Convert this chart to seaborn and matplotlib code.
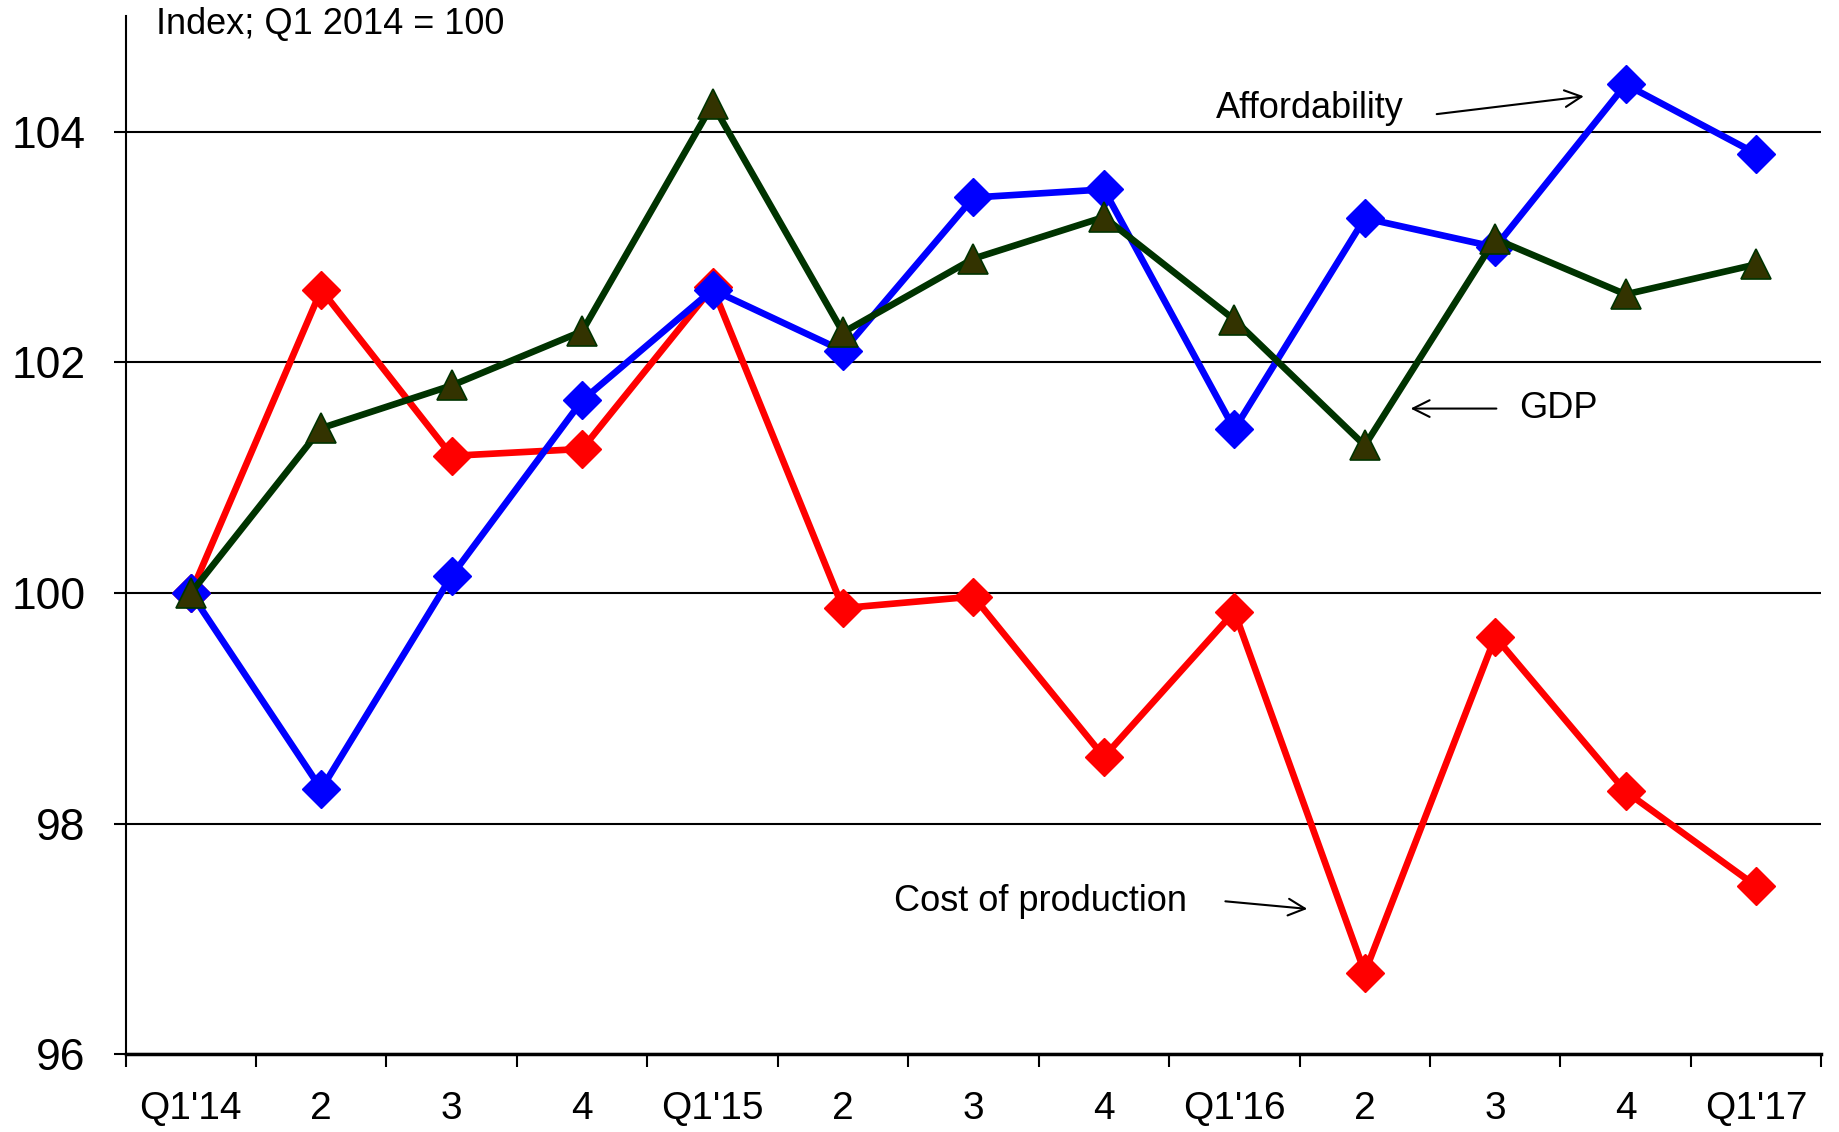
import pandas as pd
import seaborn as sns
import matplotlib.pyplot as plt
from matplotlib.ticker import FixedLocator

# Quarterly index values, Q1 2014 = 100
quarters = ["Q1'14", "2", "3", "4", "Q1'15", "2", "3", "4", "Q1'16", "2", "3", "4", "Q1'17"]
affordability = [100.0, 98.30, 100.15, 101.67, 102.63, 102.10, 103.43, 103.50, 101.42, 103.25, 103.00, 104.41, 103.81]
gdp = [100.0, 101.43, 101.80, 102.27, 104.24, 102.26, 102.90, 103.26, 102.37, 101.28, 103.07, 102.59, 102.85]
cost_of_production = [100.0, 102.63, 101.19, 101.25, 102.65, 99.87, 99.97, 98.58, 99.84, 96.71, 99.62, 98.28, 97.46]

pos = list(range(len(quarters)))
df = pd.DataFrame({"pos": pos, "Affordability": affordability, "GDP": gdp,
                   "Cost of production": cost_of_production})

sns.set_style("white")
plt.rcParams["font.family"] = ["Liberation Sans", "DejaVu Sans"]
plt.rcParams["text.color"] = "black"
plt.rcParams["xtick.color"] = "black"
plt.rcParams["ytick.color"] = "black"

fig, ax = plt.subplots(figsize=(18.39, 11.32), dpi=100)
fig.subplots_adjust(left=0.0683, right=0.9904, top=0.9855, bottom=0.0685)

# draw order: red, blue, green
sns.lineplot(data=df, x="pos", y="Cost of production", ax=ax, color="#ff0000", linewidth=4.8,
             marker="D", markersize=19, markeredgecolor="#ff0000", markeredgewidth=1, zorder=3)
sns.lineplot(data=df, x="pos", y="Affordability", ax=ax, color="#0000ff", linewidth=4.8,
             marker="D", markersize=19, markeredgecolor="#0000ff", markeredgewidth=1, zorder=4)
sns.lineplot(data=df, x="pos", y="GDP", ax=ax, color="#003300", linewidth=4.8,
             marker="^", markersize=22, markerfacecolor="#333300",
             markeredgecolor="#003300", markeredgewidth=1.2, zorder=5)

ax.set_xlim(-0.5, 12.5)
ax.set_ylim(96, 105)
ax.set_xlabel("")
ax.set_ylabel("")

ax.set_xticks(pos)
ax.set_xticklabels(quarters, fontsize=28)
ax.xaxis.set_minor_locator(FixedLocator([p - 0.5 for p in pos] + [12.5]))
ax.tick_params(axis="x", which="major", bottom=True, length=0, pad=26)
ax.tick_params(axis="x", which="minor", bottom=True, length=9, width=1.5,
               color="black", direction="out")

ax.set_yticks([96, 98, 100, 102, 104])
ax.tick_params(axis="y", which="major", left=True, length=9, width=1.5, color="black",
               direction="out", labelsize=32, pad=20)
ax.yaxis.grid(True, color="black", lw=1.5)
ax.xaxis.grid(False)
ax.set_axisbelow(True)

for s in ["top", "right"]:
    ax.spines[s].set_visible(False)
ax.spines["left"].set_color("black")
ax.spines["left"].set_linewidth(1.5)
ax.spines["bottom"].set_color("black")
ax.spines["bottom"].set_linewidth(2.5)

# labels and arrows
ax.text(-0.27, 104.93, "Index; Q1 2014 = 100", fontsize=26, va="center", ha="left")
ax.text(7.86, 104.20, "Affordability", fontsize=26, va="center", ha="left")
ax.text(10.18, 101.60, "GDP", fontsize=26, va="center", ha="left")
ax.text(5.39, 97.33, "Cost of production", fontsize=26, va="center", ha="left")

arrow = dict(arrowstyle="->", color="black", lw=1.5, mutation_scale=30)
ax.annotate("", xy=(10.70, 104.31), xytext=(9.53, 104.15), arrowprops=arrow)
ax.annotate("", xy=(9.33, 101.60), xytext=(10.03, 101.60), arrowprops=arrow)
ax.annotate("", xy=(8.58, 97.26), xytext=(7.91, 97.33), arrowprops=arrow)

fig.savefig("out.png", dpi=100)
